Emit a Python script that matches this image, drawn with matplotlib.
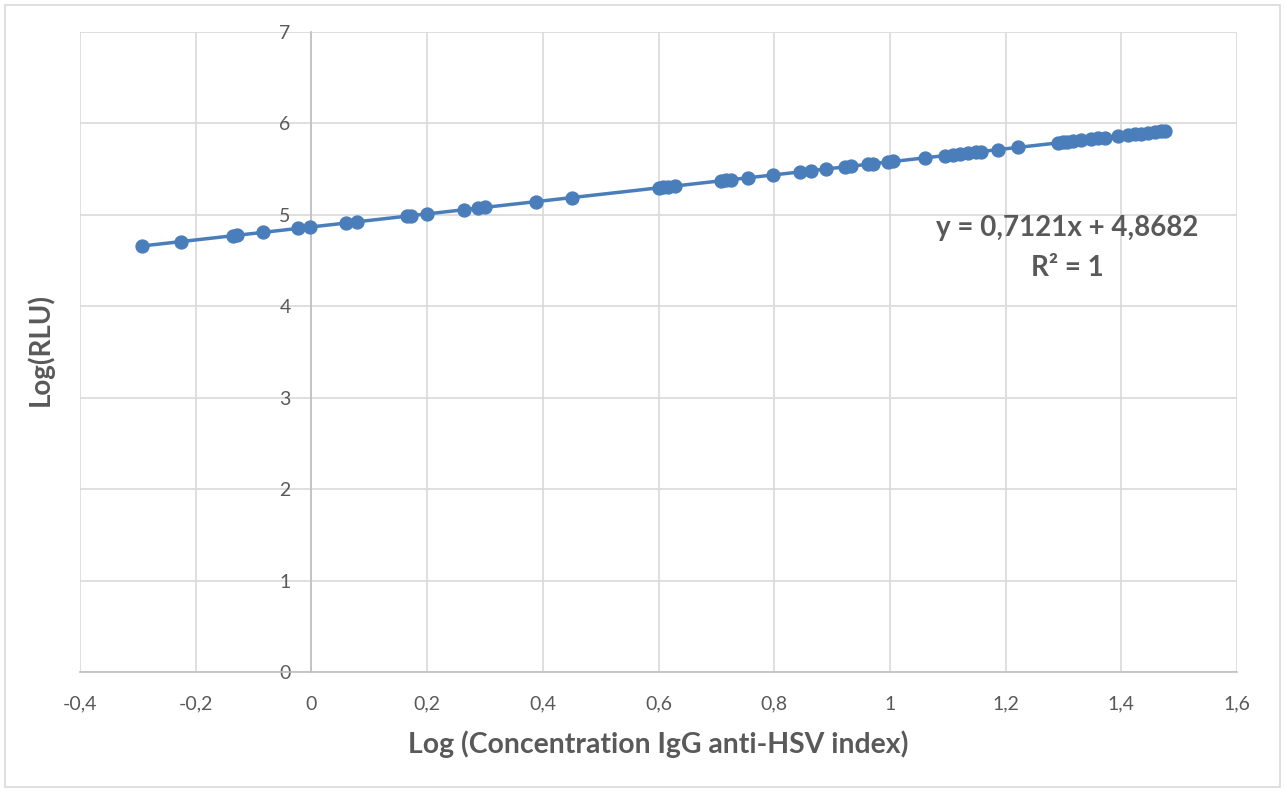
import numpy as np
import matplotlib
matplotlib.use('Agg')
import matplotlib.pyplot as plt
from matplotlib.patches import Rectangle
from matplotlib.ticker import FuncFormatter

# log concentration (x) and log RLU (y)
log_conc = [-0.292, -0.225, -0.135, -0.128, -0.083, -0.024, -0.002, 0.059, 0.078,
            0.165, 0.173, 0.199, 0.263, 0.288, 0.300, 0.389, 0.451, 0.600, 0.608,
            0.617, 0.629, 0.708, 0.717, 0.725, 0.755, 0.798, 0.845, 0.864, 0.889,
            0.922, 0.933, 0.962, 0.971, 0.997, 1.005, 1.060, 1.095, 1.109, 1.121,
            1.135, 1.149, 1.157, 1.187, 1.221, 1.290, 1.299, 1.307, 1.316, 1.330,
            1.347, 1.359, 1.371, 1.394, 1.411, 1.423, 1.434, 1.446, 1.458, 1.468,
            1.475]
log_rlu = [4.660, 4.708, 4.772, 4.777, 4.809, 4.851, 4.867, 4.910, 4.924,
           4.986, 4.991, 5.010, 5.056, 5.073, 5.082, 5.145, 5.189, 5.295, 5.301,
           5.308, 5.316, 5.372, 5.379, 5.384, 5.406, 5.436, 5.470, 5.483, 5.501,
           5.525, 5.533, 5.553, 5.560, 5.578, 5.584, 5.623, 5.648, 5.658, 5.666,
           5.676, 5.686, 5.692, 5.713, 5.738, 5.787, 5.793, 5.799, 5.805, 5.815,
           5.827, 5.836, 5.844, 5.861, 5.873, 5.882, 5.889, 5.898, 5.906, 5.914,
           5.919]
x_ticks = [-0.4, -0.2, 0, 0.2, 0.4, 0.6, 0.8, 1.0, 1.2, 1.4, 1.6]
y_ticks = [0, 1, 2, 3, 4, 5, 6, 7]
equation = 'y = 0,7121x + 4,8682'
r2_text = 'R² = 1'

blue = '#4A7EBB'
grey_text = '#595959'

plt.rcParams['font.family'] = ['Lato', 'DejaVu Sans']

fig = plt.figure(figsize=(12.85, 7.91), dpi=100)
ax = fig.add_axes([80 / 1285, 1 - 672 / 791, (1237 - 80) / 1285, (672 - 32) / 791])

# trendline
coef = np.polyfit(log_conc, log_rlu, 1)
xs = np.array([min(log_conc), max(log_conc)])
ax.plot(xs, np.polyval(coef, xs), color=blue, lw=2.5, zorder=3)
ax.plot(log_conc, log_rlu, 'o', color=blue, ms=9.3, mec=blue, zorder=4)

ax.set_xlim(-0.4, 1.6)
ax.set_ylim(0, 7)
ax.set_xticks(x_ticks)
ax.set_yticks(y_ticks)

def comma(v, pos):
    s = ('%.1f' % v).rstrip('0').rstrip('.')
    if s == '-0':
        s = '0'
    return s.replace('.', ',')

ax.xaxis.set_major_formatter(FuncFormatter(comma))
ax.yaxis.set_major_formatter(FuncFormatter(comma))

ax.grid(True, color='#d9d9d9', lw=1.2)
ax.set_axisbelow(True)
for s in ['top', 'right']:
    ax.spines[s].set_visible(False)
ax.spines['left'].set_position(('data', 0))
ax.spines['left'].set_color('#bfbfbf')
ax.spines['left'].set_linewidth(1.2)
ax.spines['bottom'].set_color('#bfbfbf')
ax.spines['bottom'].set_linewidth(1.2)
ax.tick_params(length=0, labelsize=14, colors=grey_text)
ax.tick_params(axis='x', pad=17)
ax.tick_params(axis='y', pad=15)

ax.set_xlabel('Log (Concentration IgG anti-HSV index)', fontsize=20.4, fontweight='bold',
              color=grey_text, labelpad=13)
fig.text(40 / 1285, 1 - 350 / 791, 'Log(RLU)', rotation=90, fontsize=20, fontweight='bold',
         color=grey_text, ha='center', va='center')

fig.text(1067 / 1285, 1 - 228 / 791, equation, fontsize=20, fontweight='bold',
         color=grey_text, ha='center', va='center')
fig.text(1067 / 1285, 1 - 268 / 791, r2_text, fontsize=20, fontweight='bold',
         color=grey_text, ha='center', va='center')

# outer chart border
fig.patches.append(Rectangle((5 / 1285, 4 / 791), 1275 / 1285, 782 / 791,
                             transform=fig.transFigure, fill=False,
                             edgecolor='#d9d9d9', lw=1.2))

fig.savefig('out.png', dpi=100)
